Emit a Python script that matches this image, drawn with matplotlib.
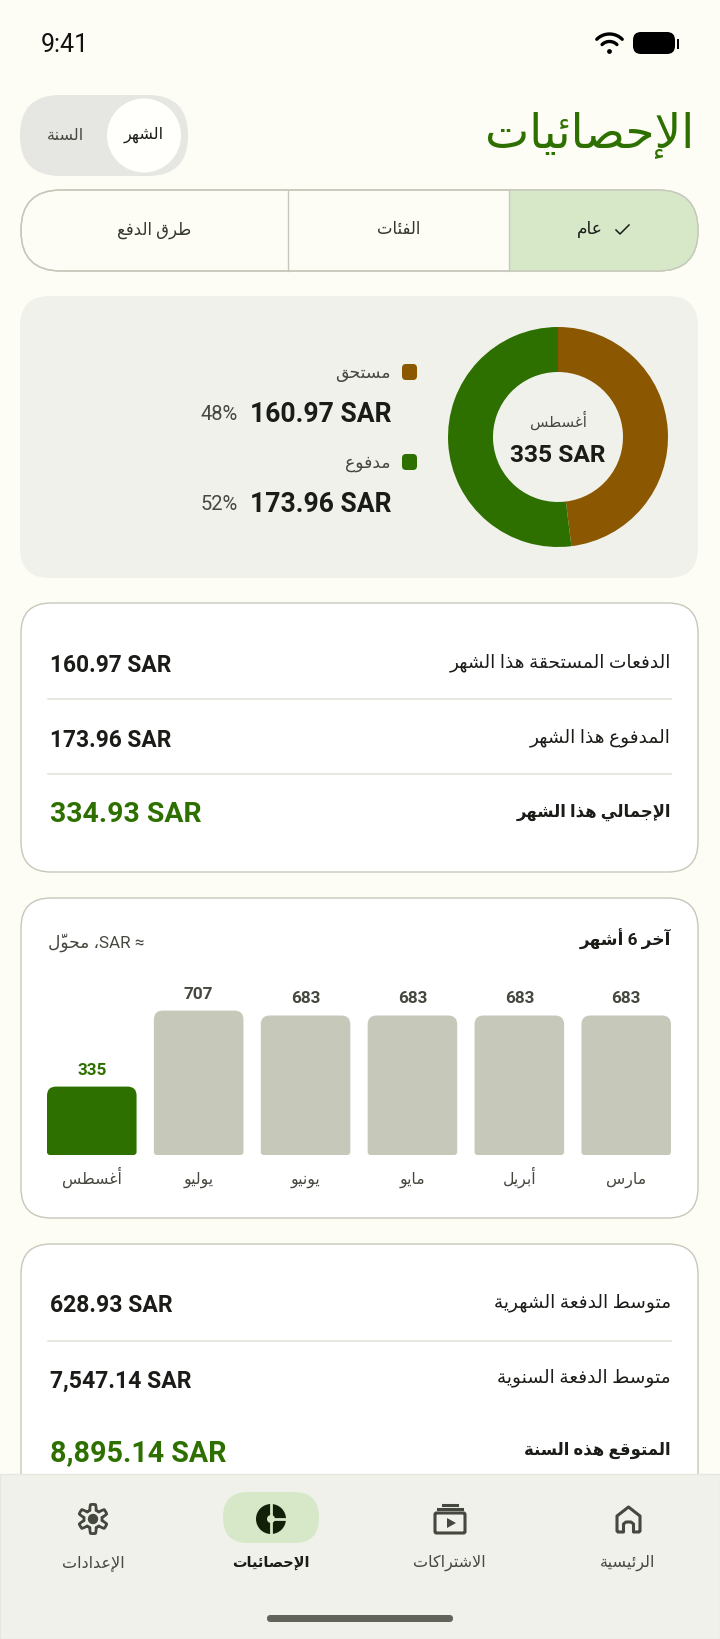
import re
import numpy as np
import matplotlib
matplotlib.use('Agg')
import matplotlib.pyplot as plt
from matplotlib.patches import FancyBboxPatch, Circle, Rectangle, Polygon, PathPatch
from matplotlib.path import Path

# data
months = ['مارس', 'أبريل', 'مايو', 'يونيو', 'يوليو', 'أغسطس']
month_totals = [683, 683, 683, 683, 707, 335]
donut_labels = ['مستحق', 'مدفوع']
donut_values = [160.97, 173.96]
donut_amounts = ['160.97 SAR', '173.96 SAR']
donut_pcts = ['48%', '52%']
month_rows = ['الدفعات المستحقة هذا الشهر', 'المدفوع هذا الشهر', 'الإجمالي هذا الشهر']
month_vals = ['160.97 SAR', '173.96 SAR', '334.93 SAR']
avg_rows = ['متوسط الدفعة الشهرية', 'متوسط الدفعة السنوية', 'المتوقع هذه السنة']
avg_vals = ['628.93 SAR', '7,547.14 SAR', '8,895.14 SAR']
tabs = ['عام', 'الفئات', 'طرق الدفع']
nav_labels = ['الرئيسية', 'الاشتراكات', 'الإحصائيات', 'الإعدادات']

BG = '#fdfdf5'
PANEL = '#f0f1eb'
GREEN = '#2e7000'
BROWN = '#8b5700'
GREY_BAR = '#c6c8ba'
LIGHT_GREEN = '#d7e8c9'
BORDER = '#c6c8bb'
DIVIDER = '#e3e4dd'
INK = '#1a1c18'
ICON = '#44483e'
W, H = 720, 1640

# matplotlib has no arabic shaping, so pick the presentation forms by hand
forms = {}
code = 0xFE80
for ch in 'ءآأؤإئابةتثجحخدذرزسشصضطظعغفقكلمنهوىي':
    n = 1 if ch == 'ء' else 2 if ch in 'آأؤإادذرزةوى' else 4
    forms[ch] = [chr(code + i) for i in range(n)]
    code += n
lam_alef = {'آ': 0xFEF5, 'أ': 0xFEF7, 'إ': 0xFEF9, 'ا': 0xFEFB}
MARKS = '\u0651'


def ar(s):
    out = []
    i = 0
    prev_joins = False
    while i < len(s):
        c = s[i]
        if c in MARKS:
            # mark goes first, the pen is at the left of its base in visual order
            out[-1] = c + out[-1]
            i += 1
            continue
        if c not in forms:
            out.append(c)
            prev_joins = False
            i += 1
            continue
        if c == 'ل' and i + 1 < len(s) and s[i + 1] in lam_alef:
            base = lam_alef[s[i + 1]]
            out.append(chr(base + (1 if prev_joins else 0)))
            prev_joins = False
            i += 2
            continue
        j = i + 1
        while j < len(s) and s[j] in MARKS:
            j += 1
        next_joins = j < len(s) and s[j] in forms and len(forms[s[j]]) > 1
        f = forms[c]
        if len(f) == 1:
            g = f[0]
        elif len(f) == 2:
            g = f[1] if prev_joins else f[0]
        elif prev_joins and next_joins:
            g = f[3]
        elif prev_joins:
            g = f[1]
        elif next_joins:
            g = f[2]
        else:
            g = f[0]
        out.append(g)
        prev_joins = len(f) == 4
        i += 1
    vis = ''.join(out[::-1])
    return re.sub(r'[0-9A-Za-z.,]+', lambda m: m.group()[::-1], vis)


plt.rcParams['font.family'] = ['Roboto', 'DejaVu Sans']
fig = plt.figure(figsize=(W / 100, H / 100), dpi=100, facecolor=BG)
ax = fig.add_axes([0, 0, 1, 1])
ax.set_xlim(0, W)
ax.set_ylim(H, 0)
ax.axis('off')


def box(x0, y0, x1, y1, r, fc, ec='none', lw=0, z=1):
    p = FancyBboxPatch((x0 + r, y0 + r), x1 - x0 - 2 * r, y1 - y0 - 2 * r,
                       boxstyle=f'round,pad={r},rounding_size={r}',
                       fc=fc, ec=ec, lw=lw, zorder=z)
    ax.add_patch(p)
    return p


def label(x, y, s, px, color=INK, ha='right', weight='normal', z=5):
    # px is the size in image pixels
    return ax.text(x, y, ar(s), fontsize=px * 0.72, color=color, ha=ha, va='center',
                   fontweight=weight, zorder=z)


def value(x, y, s, px, color=INK, ha='left', z=5):
    return ax.text(x, y, s, fontsize=px * 0.72, color=color, ha=ha, va='center',
                   fontweight='bold', zorder=z)


# status bar
ax.text(41, 45, '9:41', fontsize=18, color='#111111', ha='left', va='center')
t = np.radians(np.linspace(45, 135, 30))
for r_ in (18, 10.5):
    ax.plot(609.5 + r_ * np.cos(t), 53 - r_ * np.sin(t), color='black', lw=2.4, solid_capstyle='round')
ax.add_patch(Circle((609.5, 52.5), 2.4, fc='black', ec='none'))
box(633, 33, 675, 55, 8, 'black')
ax.add_patch(Rectangle((676.5, 40), 2.5, 10, fc='black', ec='none'))

# header
label(694, 135, 'الإحصائيات', 47, GREEN)
box(20, 96, 188, 177, 40, '#e6e7e2')
ax.add_patch(Circle((144, 136.5), 37, fc='#fffffb', ec='none', zorder=2))
label(144, 135, 'الشهر', 16, INK, ha='center')
label(65, 135, 'السنة', 16, '#44483e', ha='center')

# tabs
box(21, 191, 698, 272, 40, BG, BORDER, 1.0, z=1)
clip = box(21, 191, 698, 272, 40, 'none', z=1)
green_tab = Rectangle((509, 191), 189, 81, fc=LIGHT_GREEN, ec='none', zorder=2)
ax.add_patch(green_tab)
green_tab.set_clip_path(clip)
box(21, 191, 698, 272, 40, 'none', BORDER, 1.0, z=3)
for xd in (288, 509):
    ax.plot([xd, xd], [191, 272], color=BORDER, lw=1.0, zorder=3)
label(590, 230, tabs[0], 17, INK, ha='center')
ax.plot([616, 620, 629], [231, 235, 226], color=INK, lw=1.1, zorder=5)
label(399, 230, tabs[1], 16.5, '#333630', ha='center')
label(154, 230, tabs[2], 16.5, '#333630', ha='center')

# donut panel
box(20, 297, 698, 579, 30, PANEL)
pie_ax = fig.add_axes([448 / W, 1 - 548 / H, 220 / W, 220 / H])
pie_ax.pie(donut_values, colors=[BROWN, GREEN], startangle=90, counterclock=False,
           radius=1, wedgeprops={'width': 45 / 110, 'linewidth': 0})
pie_ax.set_xlim(-1, 1)
pie_ax.set_ylim(-1, 1)
pie_ax.patch.set_alpha(0)
label(558, 420, 'أغسطس', 15, '#44483e', ha='center')
value(558, 455, '335 SAR', 24.5, INK, ha='center')
for y0, name, col, amount, pct in zip((373, 463), donut_labels, (BROWN, GREEN), donut_amounts, donut_pcts):
    box(402, y0 - 8, 417, y0 + 8, 4, col, z=3)
    label(391, y0 + 1, name, 17.3, '#44483e')
    value(391, y0 + 41, amount, 26.5, INK, ha='right')
    ax.text(238, y0 + 42, pct, fontsize=14.5, color='#44483e', ha='right', va='center', zorder=5)

# this month card
box(21, 604, 698, 873, 30, '#ffffff', BORDER, 1.0)
for y0 in (700, 775):
    ax.plot([48, 671], [y0, y0], color=DIVIDER, lw=1.2, zorder=2)
for y0, name, val in zip((663, 738, 812), month_rows, month_vals):
    green = y0 == 812
    label(671, y0, name, 16.5 if green else 18.5, INK, weight='bold' if green else 'normal')
    value(49.5, y0 + 3, val, 28.4 if green else 22.8, GREEN if green else INK)

# last six months card
box(21, 899, 698, 1219, 30, '#ffffff', BORDER, 1.0)
label(671, 939, 'آخر 6 أشهر', 17, INK, weight='bold')
label(145, 943, '≈ SAR، محوّل', 17, '#44483e')

# x runs right to left in the app: months[0] sits at the right
bar_left, bar_right, bar_base = 47, 671, 1156
px_per_unit = 139.5 / 683
bar_ax = fig.add_axes([bar_left / W, 1 - bar_base / H, (bar_right - bar_left) / W, 180 / H])
bar_ax.set_xlim(len(months) - 1 + 0.419, -0.419)
bar_ax.set_ylim(0, 180 / px_per_unit)
bar_ax.axis('off')
bar_colors = [GREY_BAR] * 5 + [GREEN]
x_pos = np.arange(len(months))
bars = bar_ax.bar(x_pos, month_totals, width=0.838, color=bar_colors)
unit_x = 1 / 106.8
unit_y = 1 / px_per_unit
for b, col, val, name, xp in zip(bars, bar_colors, month_totals, months, x_pos):
    # swap the square bar for one with round top corners
    b.set_visible(False)
    x0, x1 = b.get_x(), b.get_x() + b.get_width()
    h = b.get_height()
    rt, rb = 9, 3
    verts = [(x0 + rb * unit_x, 0), (x1 - rb * unit_x, 0), (x1, 0), (x1, rb * unit_y),
             (x1, h - rt * unit_y), (x1, h), (x1 - rt * unit_x, h),
             (x0 + rt * unit_x, h), (x0, h), (x0, h - rt * unit_y),
             (x0, rb * unit_y), (x0, 0), (x0 + rb * unit_x, 0), (x0 + rb * unit_x, 0)]
    cods = [Path.MOVETO, Path.LINETO, Path.CURVE3, Path.CURVE3, Path.LINETO, Path.CURVE3, Path.CURVE3,
            Path.LINETO, Path.CURVE3, Path.CURVE3, Path.LINETO, Path.CURVE3, Path.CURVE3, Path.CLOSEPOLY]
    bar_ax.add_patch(PathPatch(Path(verts, cods), fc=col, ec='none'))
    bar_ax.annotate(str(val), (xp, h), xytext=(0, 13), textcoords='offset pixels',
                    ha='center', va='baseline', fontsize=12.3, fontweight='bold',
                    color=GREEN if col == GREEN else '#44483e', annotation_clip=False)
    bar_ax.annotate(ar(name), (xp, 0), xytext=(0, -28), textcoords='offset pixels',
                    ha='center', va='baseline', fontsize=11.3, color='#44483e', annotation_clip=False)

# averages card, runs under the nav bar
box(21, 1245, 698, 1600, 30, '#ffffff', BORDER, 1.0)
ax.plot([48, 671], [1342, 1342], color=DIVIDER, lw=1.2, zorder=2)
for y0, name, val in zip((1303, 1378, 1450), avg_rows, avg_vals):
    green = y0 == 1450
    label(671, y0, name, 16.5 if green else 18.5, INK, weight='bold' if green else 'normal')
    value(49.5, y0 + 3, val, 28.6 if green else 23, GREEN if green else INK)

# nav bar
ax.add_patch(Rectangle((0, 1475), W, H - 1475, fc=PANEL, ec='#e6e7de', lw=1, zorder=10))
box(223, 1493, 319, 1544, 25, LIGHT_GREEN, z=11)
for xc, name, col in zip((628, 449, 271, 93), nav_labels, (ICON, ICON, INK, ICON)):
    bold = col == INK
    label(xc, 1563, name, 14.5 if bold else 16, col, ha='center', weight='bold' if bold else 'normal', z=12)

# settings icon
a = np.radians(np.linspace(0, 360, 145))
r_gear = 11.8 + 2.8 * np.clip(2.0 * np.cos(6 * a), -1, 1)
ax.add_patch(Polygon(np.c_[93 + r_gear * np.sin(a), 1520 - r_gear * np.cos(a)], closed=True,
                     fc=PANEL, ec=ICON, lw=2.0, zorder=12, joinstyle='round'))
ax.add_patch(Circle((93, 1520), 5.2, fc=ICON, ec='none', zorder=13))

# stats icon
ax.add_patch(Circle((271, 1520), 15, fc='#122008', ec='none', zorder=12))
ax.plot([271, 271], [1504, 1536], color=LIGHT_GREEN, lw=2, zorder=13)
ax.plot([271, 287], [1520, 1520], color=LIGHT_GREEN, lw=2, zorder=13)
ax.add_patch(Circle((271, 1520), 4, fc=LIGHT_GREEN, ec='none', zorder=13))

# subscriptions icon
box(435, 1514, 465, 1534, 1.5, 'none', ICON, 2.2, z=12)
ax.plot([438, 462], [1510, 1510], color=ICON, lw=2.2, zorder=12)
ax.plot([443, 457], [1506, 1506], color=ICON, lw=2.2, zorder=12)
ax.add_patch(Polygon([(447, 1519), (456, 1524), (447, 1529)], closed=True, fc=ICON, ec='none', zorder=12))

# home icon
home = [(623.5, 1533), (618, 1533), (617, 1532), (617, 1517), (628.5, 1508), (640, 1517), (640, 1532),
        (639, 1533), (633.5, 1533), (633.5, 1525), (631, 1523), (626, 1523), (623.5, 1525)]
ax.add_patch(Polygon(home, closed=True, fc='none', ec=ICON, lw=2.2, zorder=12, joinstyle='round'))

# home indicator
box(267, 1616, 453, 1623, 3.5, '#62645c', z=12)

fig.savefig('out.png', dpi=100, facecolor=BG)
